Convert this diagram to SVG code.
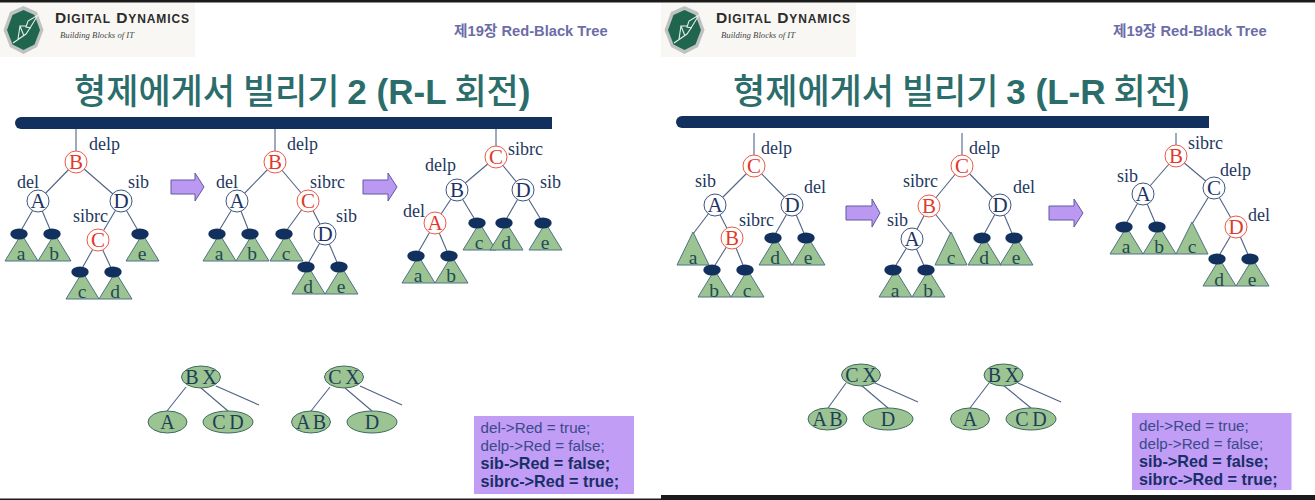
<svg xmlns="http://www.w3.org/2000/svg" width="1315" height="500" viewBox="0 0 1315 500">
<style>
.lb,.nt,.st,.bt{font-family:"Liberation Serif","Times New Roman",serif}
.lb{font-size:18px;fill:#24385f}
.nt{font-size:21px;text-anchor:middle}
.rn circle{fill:#fff;stroke:#ea5a48;stroke-width:1}
.rn text{fill:#e23a2a}
.bn circle{fill:#fff;stroke:#3f5580;stroke-width:1}
.bn text{fill:#1c3364}
.st{font-size:19.500px;text-anchor:middle;fill:#1f4a55}
.tri{fill:#9cc392;stroke:#4f7282;stroke-width:1}
.blk{fill:#12305e}
.ov{fill:#9cc392;stroke:#3f6a62;stroke-width:1}
.bt{font-size:20px;text-anchor:middle;fill:#1c3f58;word-spacing:-1.5px}
.edge line{stroke:#4f6384;stroke-width:1.1}
.arw{fill:#bb99f2;stroke:#5d5aa0;stroke-width:1}
.bar{fill:#12305e}
.ttl{font-family:"Noto Sans CJK KR","Noto Sans",sans-serif;font-size:35px;font-weight:500;fill:#2a6d6b}
.ttl .b{font-family:"Liberation Sans",sans-serif;font-weight:700}
.hd{font-family:"Liberation Sans","Noto Sans CJK KR",sans-serif;font-size:14.700px;font-weight:700;fill:#6c6ca8}
.box{fill:#c19df5}
.cd{font-family:"Liberation Sans",Arial,sans-serif;font-size:15.200px;fill:#3a4a8a}
.cb{font-size:16.200px;font-weight:700;fill:#182f68}
.lg1{font-family:"Liberation Sans",sans-serif;font-size:15.500px;font-weight:700;fill:#2b2b2b;letter-spacing:.9px}
.lg1 .s{font-size:12px}
.lg2{font-family:"Liberation Serif",serif;font-style:italic;font-size:8.700px;fill:#444}
.lgbg{fill:#f8f7f3}
</style>
<defs>
<g id="sub"><path class="tri" d="M2.5 0L19 27H-14Z"/><ellipse class="blk" rx="8.7" ry="5.6"/></g>
<g id="logo"><rect class="lgbg" x="0" y="0" width="195" height="54"/>
<polygon points="23.500,3 37,9 43.500,27 37,44 23.500,51 10,44 3.500,27 10,9" fill="#bfc2c2"/>
<polygon points="23.500,7 34.500,12 40,27 34.500,41.500 23.500,47 12.500,41.500 7,27 12.500,12" fill="#20664f"/>
<path d="M13 40L26 31L30 25L38 12L28 18L26 24L31 25M24 33L20 23H26M18 36L20 23" fill="none" stroke="#e8efe9" stroke-width="1.100"/>
<text class="lg1" x="55" y="20">D<tspan class="s">IGITAL</tspan> D<tspan class="s">YNAMICS</tspan></text>
<text class="lg2" x="60" y="35">Building Blocks of IT</text></g>
</defs>
<rect width="1315" height="500" fill="#fff"/>
<rect width="1315" height="2.500" fill="#1b1b1b"/>
<rect y="498.500" width="661" height="1.500" fill="#1b1b1b"/>
<rect x="661" y="495" width="654" height="5" fill="#1b1b1b"/>

<g id="logo-left"><use href="#logo" y="3"/></g>
<g id="logo-right"><use href="#logo" x="661" y="3"/></g>
<text class="hd" x="454" y="36">제19장 Red-Black Tree</text>
<text class="hd" x="1113" y="36">제19장 Red-Black Tree</text>
<text class="ttl" x="74" y="104">형제에게서 빌리기 <tspan class="b">2 (R-L</tspan> 회전<tspan class="b">)</tspan></text>
<text class="ttl" x="733" y="104">형제에게서 빌리기 <tspan class="b">3 (L-R</tspan> 회전<tspan class="b">)</tspan></text>
<path id="bar-left" class="bar" d="M552 117H21a6 6 0 0 0 0 12H552Z"/>
<path id="bar-right" class="bar" d="M1209 116H682a6 6 0 0 0 0 12H1209Z"/>

<g id="connectors" class="edge">
<line x1="76" y1="129" x2="76" y2="162"/><line x1="76" y1="162" x2="38" y2="201"/><line x1="76" y1="162" x2="121" y2="201"/><line x1="38" y1="201" x2="19" y2="234"/><line x1="38" y1="201" x2="52" y2="234"/><line x1="121" y1="201" x2="98" y2="240"/><line x1="121" y1="201" x2="140" y2="234"/><line x1="98" y1="240" x2="80" y2="272"/><line x1="98" y1="240" x2="113" y2="272"/>
<line x1="275" y1="129" x2="275" y2="162"/><line x1="275" y1="162" x2="237" y2="201"/><line x1="275" y1="162" x2="308" y2="201"/><line x1="237" y1="201" x2="217" y2="234"/><line x1="237" y1="201" x2="250" y2="234"/><line x1="308" y1="201" x2="284" y2="234"/><line x1="308" y1="201" x2="325" y2="234"/><line x1="325" y1="234" x2="306" y2="267"/><line x1="325" y1="234" x2="339" y2="267"/>
<line x1="496" y1="129" x2="496" y2="157"/><line x1="496" y1="157" x2="457" y2="190"/><line x1="496" y1="157" x2="523" y2="190"/><line x1="457" y1="190" x2="435" y2="223"/><line x1="457" y1="190" x2="477" y2="223"/><line x1="523" y1="190" x2="504" y2="223"/><line x1="523" y1="190" x2="543" y2="223"/><line x1="435" y1="223" x2="416" y2="256"/><line x1="435" y1="223" x2="449" y2="256"/>
<line x1="754" y1="133" x2="754" y2="166"/><line x1="754" y1="166" x2="715" y2="205"/><line x1="754" y1="166" x2="792" y2="205"/><line x1="715" y1="205" x2="693" y2="234"/><line x1="715" y1="205" x2="732" y2="238"/><line x1="792" y1="205" x2="773" y2="238"/><line x1="792" y1="205" x2="806" y2="238"/><line x1="732" y1="238" x2="712" y2="270"/><line x1="732" y1="238" x2="745" y2="270"/>
<line x1="962" y1="133" x2="962" y2="166"/><line x1="962" y1="166" x2="929" y2="206"/><line x1="962" y1="166" x2="1000" y2="205"/><line x1="929" y1="206" x2="912" y2="239"/><line x1="929" y1="206" x2="951" y2="234"/><line x1="912" y1="239" x2="893" y2="270"/><line x1="912" y1="239" x2="926" y2="270"/><line x1="1000" y1="205" x2="982" y2="238"/><line x1="1000" y1="205" x2="1014" y2="238"/>
<line x1="1176" y1="133" x2="1176" y2="156"/><line x1="1176" y1="156" x2="1143" y2="194"/><line x1="1176" y1="156" x2="1214" y2="188"/><line x1="1143" y1="194" x2="1124" y2="227"/><line x1="1143" y1="194" x2="1157" y2="227"/><line x1="1214" y1="188" x2="1192" y2="224"/><line x1="1214" y1="188" x2="1236" y2="227"/><line x1="1236" y1="227" x2="1217" y2="259"/><line x1="1236" y1="227" x2="1250" y2="259"/>
<line x1="186" y1="387" x2="167" y2="411"/><line x1="201" y1="388" x2="228" y2="411"/><line x1="216" y1="386" x2="259" y2="405"/>
<line x1="330" y1="387" x2="311" y2="411"/><line x1="345" y1="388" x2="372" y2="411"/><line x1="360" y1="386" x2="402" y2="405"/>
<line x1="846" y1="383" x2="828" y2="408"/><line x1="861" y1="385" x2="888" y2="408"/><line x1="875" y1="383" x2="918" y2="402"/>
<line x1="989" y1="383" x2="970" y2="408"/><line x1="1003" y1="385" x2="1031" y2="408"/><line x1="1018" y1="383" x2="1061" y2="402"/>
</g>

<g id="arrows">
<path class="arw" d="M171 180H195V173L204 187L195 201V194H171Z"/>
<path class="arw" d="M363 180H388V173L397 187L388 201V194H363Z"/>
<path class="arw" d="M846 206H872V199L880 213L872 227V220H846Z"/>
<path class="arw" d="M1049 206H1074V199L1083 213L1074 227V220H1049Z"/>
</g>

<g id="t1">
<g id="t1-B" class="rn" transform="translate(76,162)"><circle r="11"/><text class="nt" y="7">B</text></g>
<g id="t1-A" class="bn" transform="translate(38,201)"><circle r="11"/><text class="nt" y="7">A</text></g>
<g id="t1-D" class="bn" transform="translate(121,201)"><circle r="11"/><text class="nt" y="7">D</text></g>
<g id="t1-C" class="rn" transform="translate(98,240)"><circle r="11"/><text class="nt" y="7">C</text></g>
<g id="t1-a" transform="translate(19,234)"><use href="#sub"/><text class="st" x="2" y="26">a</text></g>
<g id="t1-b" transform="translate(52,234)"><use href="#sub"/><text class="st" x="2" y="26">b</text></g>
<g id="t1-e" transform="translate(140,234)"><use href="#sub"/><text class="st" x="2" y="26">e</text></g>
<g id="t1-c" transform="translate(80,272)"><use href="#sub"/><text class="st" x="2" y="26">c</text></g>
<g id="t1-d" transform="translate(113,272)"><use href="#sub"/><text class="st" x="2" y="26">d</text></g>
<text class="lb" x="89" y="150">delp</text><text class="lb" x="17" y="188">del</text><text class="lb" x="128" y="188">sib</text><text class="lb" x="73" y="222">sibrc</text>
</g>
<g id="t2">
<g id="t2-B" class="rn" transform="translate(275,162)"><circle r="11"/><text class="nt" y="7">B</text></g>
<g id="t2-A" class="bn" transform="translate(237,201)"><circle r="11"/><text class="nt" y="7">A</text></g>
<g id="t2-C" class="rn" transform="translate(308,201)"><circle r="11"/><text class="nt" y="7">C</text></g>
<g id="t2-D" class="bn" transform="translate(325,234)"><circle r="11"/><text class="nt" y="7">D</text></g>
<g id="t2-a" transform="translate(217,234)"><use href="#sub"/><text class="st" x="2" y="26">a</text></g>
<g id="t2-b" transform="translate(250,234)"><use href="#sub"/><text class="st" x="2" y="26">b</text></g>
<g id="t2-c" transform="translate(284,234)"><use href="#sub"/><text class="st" x="2" y="26">c</text></g>
<g id="t2-d" transform="translate(306,267)"><use href="#sub"/><text class="st" x="2" y="26">d</text></g>
<g id="t2-e" transform="translate(339,267)"><use href="#sub"/><text class="st" x="2" y="26">e</text></g>
<text class="lb" x="287" y="150">delp</text><text class="lb" x="216" y="188">del</text><text class="lb" x="310" y="188">sibrc</text><text class="lb" x="336" y="222">sib</text>
</g>
<g id="t3">
<g id="t3-C" class="rn" transform="translate(496,157)"><circle r="11"/><text class="nt" y="7">C</text></g>
<g id="t3-B" class="bn" transform="translate(457,190)"><circle r="11"/><text class="nt" y="7">B</text></g>
<g id="t3-D" class="bn" transform="translate(523,190)"><circle r="11"/><text class="nt" y="7">D</text></g>
<g id="t3-A" class="rn" transform="translate(435,223)"><circle r="11"/><text class="nt" y="7">A</text></g>
<g id="t3-c" transform="translate(477,223)"><use href="#sub"/><text class="st" x="2" y="26">c</text></g>
<g id="t3-d" transform="translate(504,223)"><use href="#sub"/><text class="st" x="2" y="26">d</text></g>
<g id="t3-e" transform="translate(543,223)"><use href="#sub"/><text class="st" x="2" y="26">e</text></g>
<g id="t3-a" transform="translate(416,256)"><use href="#sub"/><text class="st" x="2" y="26">a</text></g>
<g id="t3-b" transform="translate(449,256)"><use href="#sub"/><text class="st" x="2" y="26">b</text></g>
<text class="lb" x="508" y="155">sibrc</text><text class="lb" x="425" y="171">delp</text><text class="lb" x="540" y="188">sib</text><text class="lb" x="403" y="217">del</text>
</g>
<g id="t4">
<g id="t4-C" class="rn" transform="translate(754,166)"><circle r="11"/><text class="nt" y="7">C</text></g>
<g id="t4-A" class="bn" transform="translate(715,205)"><circle r="11"/><text class="nt" y="7">A</text></g>
<g id="t4-D" class="bn" transform="translate(792,205)"><circle r="11"/><text class="nt" y="7">D</text></g>
<g id="t4-B" class="rn" transform="translate(732,238)"><circle r="11"/><text class="nt" y="7">B</text></g>
<g id="t4-a"><path class="tri" d="M693 232L709 265H677Z"/><text class="st" x="693" y="264">a</text></g>
<g id="t4-b" transform="translate(712,270)"><use href="#sub"/><text class="st" x="2" y="27">b</text></g>
<g id="t4-c" transform="translate(745,270)"><use href="#sub"/><text class="st" x="2" y="27">c</text></g>
<g id="t4-d" transform="translate(773,238)"><use href="#sub"/><text class="st" x="2" y="26">d</text></g>
<g id="t4-e" transform="translate(806,238)"><use href="#sub"/><text class="st" x="2" y="26">e</text></g>
<text class="lb" x="761" y="154">delp</text><text class="lb" x="695" y="187">sib</text><text class="lb" x="804" y="193">del</text><text class="lb" x="739" y="226">sibrc</text>
</g>
<g id="t5">
<g id="t5-C" class="rn" transform="translate(962,166)"><circle r="11"/><text class="nt" y="7">C</text></g>
<g id="t5-B" class="rn" transform="translate(929,206)"><circle r="11"/><text class="nt" y="7">B</text></g>
<g id="t5-D" class="bn" transform="translate(1000,205)"><circle r="11"/><text class="nt" y="7">D</text></g>
<g id="t5-A" class="bn" transform="translate(912,239)"><circle r="11"/><text class="nt" y="7">A</text></g>
<g id="t5-a" transform="translate(893,270)"><use href="#sub"/><text class="st" x="2" y="27">a</text></g>
<g id="t5-b" transform="translate(926,270)"><use href="#sub"/><text class="st" x="2" y="27">b</text></g>
<g id="t5-c"><path class="tri" d="M951 232L967 265H935Z"/><text class="st" x="951" y="264">c</text></g>
<g id="t5-d" transform="translate(982,238)"><use href="#sub"/><text class="st" x="2" y="26">d</text></g>
<g id="t5-e" transform="translate(1014,238)"><use href="#sub"/><text class="st" x="2" y="26">e</text></g>
<text class="lb" x="969" y="154">delp</text><text class="lb" x="903" y="187">sibrc</text><text class="lb" x="887" y="226">sib</text><text class="lb" x="1013" y="193">del</text>
</g>
<g id="t6">
<g id="t6-B" class="rn" transform="translate(1176,156)"><circle r="11"/><text class="nt" y="7">B</text></g>
<g id="t6-A" class="bn" transform="translate(1143,194)"><circle r="11"/><text class="nt" y="7">A</text></g>
<g id="t6-C" class="bn" transform="translate(1214,188)"><circle r="11"/><text class="nt" y="7">C</text></g>
<g id="t6-D" class="rn" transform="translate(1236,227)"><circle r="11"/><text class="nt" y="7">D</text></g>
<g id="t6-a" transform="translate(1124,227)"><use href="#sub"/><text class="st" x="2" y="26">a</text></g>
<g id="t6-b" transform="translate(1157,227)"><use href="#sub"/><text class="st" x="2" y="26">b</text></g>
<g id="t6-c"><path class="tri" d="M1192 222L1208 254H1176Z"/><text class="st" x="1192" y="253">c</text></g>
<g id="t6-d" transform="translate(1217,259)"><use href="#sub"/><text class="st" x="2" y="27">d</text></g>
<g id="t6-e" transform="translate(1250,259)"><use href="#sub"/><text class="st" x="2" y="27">e</text></g>
<text class="lb" x="1188" y="149">sibrc</text><text class="lb" x="1117" y="182">sib</text><text class="lb" x="1220" y="176">delp</text><text class="lb" x="1248" y="221">del</text>
</g>

<g id="b1-BX"><ellipse class="ov" cx="201" cy="377" rx="19.500" ry="11"/><text class="bt" x="201" y="384">B X</text></g>
<g id="b1-A"><ellipse class="ov" cx="167.500" cy="422" rx="19.500" ry="11"/><text class="bt" x="167.500" y="429">A</text></g>
<g id="b1-CD"><ellipse class="ov" cx="228" cy="422" rx="25" ry="11"/><text class="bt" x="228" y="429">C D</text></g>
<g id="b2-CX"><ellipse class="ov" cx="344" cy="377" rx="19.500" ry="11"/><text class="bt" x="344" y="384">C X</text></g>
<g id="b2-AB"><ellipse class="ov" cx="311" cy="422" rx="19.500" ry="11"/><text class="bt" x="311" y="429">A B</text></g>
<g id="b2-D"><ellipse class="ov" cx="372" cy="422" rx="25" ry="11"/><text class="bt" x="372" y="429">D</text></g>
<g id="b3-CX"><ellipse class="ov" cx="861" cy="375" rx="19.500" ry="11"/><text class="bt" x="861" y="382">C X</text></g>
<g id="b3-AB"><ellipse class="ov" cx="827.500" cy="419" rx="19.500" ry="11"/><text class="bt" x="827.500" y="426">A B</text></g>
<g id="b3-D"><ellipse class="ov" cx="888" cy="419" rx="25" ry="11"/><text class="bt" x="888" y="426">D</text></g>
<g id="b4-BX"><ellipse class="ov" cx="1003.500" cy="375" rx="19.500" ry="11"/><text class="bt" x="1003.500" y="382">B X</text></g>
<g id="b4-A"><ellipse class="ov" cx="970" cy="419" rx="19.500" ry="11"/><text class="bt" x="970" y="426">A</text></g>
<g id="b4-CD"><ellipse class="ov" cx="1031" cy="419" rx="25" ry="11"/><text class="bt" x="1031" y="426">C D</text></g>

<g id="code-left"><rect class="box" x="474" y="416" width="160" height="78"/>
<text class="cd" x="480.500" y="433">del-&gt;Red = true;</text><text class="cd" x="480.500" y="451">delp-&gt;Red = false;</text>
<text class="cd cb" x="480.500" y="469">sib-&gt;Red = false;</text><text class="cd cb" x="480.500" y="487">sibrc-&gt;Red = true;</text></g>
<g id="code-right"><rect class="box" x="1132" y="413" width="159.500" height="77"/>
<text class="cd" x="1139" y="431">del-&gt;Red = true;</text><text class="cd" x="1139" y="449">delp-&gt;Red = false;</text>
<text class="cd cb" x="1139" y="467">sib-&gt;Red = false;</text><text class="cd cb" x="1139" y="485">sibrc-&gt;Red = true;</text></g>
</svg>
